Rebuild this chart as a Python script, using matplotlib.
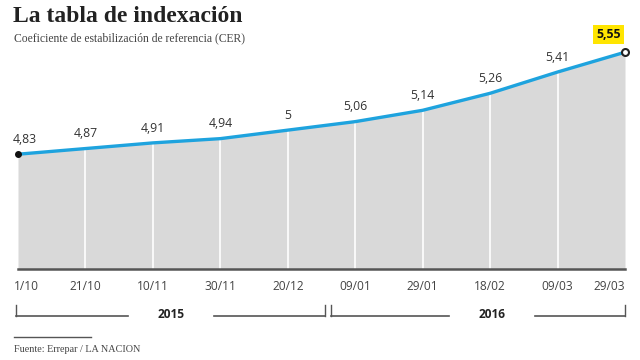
import matplotlib
matplotlib.use("Agg")
import matplotlib.pyplot as plt

dates = ["1/10", "21/10", "10/11", "30/11", "20/12", "09/01", "29/01", "18/02", "09/03", "29/03"]
values = [4.83, 4.87, 4.91, 4.94, 5.00, 5.06, 5.14, 5.26, 5.41, 5.55]
value_labels = ["4,83", "4,87", "4,91", "4,94", "5", "5,06", "5,14", "5,26", "5,41", "5,55"]
years = ["2015", "2016"]

W, H = 640, 360
fig = plt.figure(figsize=(6.4, 3.6), dpi=100)
fig.patch.set_facecolor("white")

ax_l, ax_r, ax_b, ax_t = 18, 625, 269, 40
ax = fig.add_axes([ax_l / W, 1 - ax_b / H, (ax_r - ax_l) / W, (ax_b - ax_t) / H])
ymin = 4.02
ymax = ymin + (ax_b - ax_t) / 141.7
x = list(range(len(values)))
ax.set_xlim(0, len(values) - 1)
ax.set_ylim(ymin, ymax)
ax.axis("off")

ax.fill_between(x, values, ymin, color="#d9d9d9", lw=0, zorder=1)
for i in x[1:-1]:
    ax.vlines(i, ymin, values[i], color="white", lw=1.2, zorder=2)
ax.plot(x, values, color="#1ea3de", lw=2.4, zorder=3, solid_capstyle="butt")
ax.plot([ax.get_xlim()[0], ax.get_xlim()[1]], [ymin, ymin], color="#555555", lw=1.8,
        zorder=4, clip_on=False)
ax.plot(x[0], values[0], "o", ms=4, color="#111111", zorder=5, clip_on=False)
ax.plot(x[-1], values[-1], "o", ms=5, mfc="white", mec="#222222", mew=1.5, zorder=5, clip_on=False)

sans = ["Open Sans", "DejaVu Sans"]
for i, (v, lab) in enumerate(zip(values, value_labels)):
    if i == len(values) - 1:
        continue
    ha = "left" if i == 0 else "center"
    dx = -4 if i == 0 else 0
    ax.annotate(lab, (i, v), xytext=(dx, 6), textcoords="offset points", ha=ha, va="bottom",
                fontsize=8.8, color="#333333", family=sans)

# highlighted last value
ax.annotate(value_labels[-1], (x[-1], values[-1]), xytext=(-12, 8), textcoords="offset points",
            ha="center", va="bottom", fontsize=8.8, fontweight="bold", color="#111111", family=sans,
            bbox=dict(boxstyle="square,pad=0.25", fc="#ffe500", ec="none"))

# tick labels
for i, d in enumerate(dates):
    if i == 0:
        ha, dx = "left", -3
    elif i == len(dates) - 1:
        ha, dx = "right", 0
    else:
        ha, dx = "center", 0
    ax.annotate(d, (i, ymin), xytext=(dx, -8), textcoords="offset points", ha=ha, va="top",
                fontsize=8.6, color="#444444", family=sans)

def px(xp, yp):
    return xp / W, 1 - yp / H

def bracket(x0, x1, label, cx):
    y = 316
    for xe in (x0, x1):
        fig.add_artist(plt.Line2D([px(xe, 0)[0]] * 2, [px(0, y - 11)[1], px(0, y)[1]],
                                  color="#555555", lw=1))
    fig.add_artist(plt.Line2D([px(x0, 0)[0], px(cx - 43, 0)[0]], [px(0, y)[1]] * 2,
                              color="#555555", lw=1.2))
    fig.add_artist(plt.Line2D([px(cx + 43, 0)[0], px(x1, 0)[0]], [px(0, y)[1]] * 2,
                              color="#555555", lw=1.2))
    fig.text(*px(cx, y - 1), label, ha="center", va="center", fontsize=8.6, fontweight="bold",
             color="#222222", family=sans)

bracket(16, 325, years[0], 171)
bracket(331, 625, years[1], 492)

# source
fig.add_artist(plt.Line2D([px(14, 0)[0], px(91, 0)[0]], [px(0, 337)[1]] * 2, color="#555555", lw=1))
fig.text(*px(14, 350), "Fuente: Errepar / LA NACION", ha="left", va="center", fontsize=7.3,
         color="#444444", family=["Liberation Serif", "DejaVu Serif"])

# titles
fig.text(*px(13, 16), "La tabla de indexación", ha="left", va="center", fontsize=17,
         fontweight="bold", color="#222222", family=["Liberation Serif", "DejaVu Serif"])
fig.text(*px(14, 38), "Coeficiente de estabilización de referencia (CER)", ha="left", va="center",
         fontsize=8.4, color="#444444", family=["Liberation Serif", "DejaVu Serif"])

fig.savefig("out.png", dpi=100)
